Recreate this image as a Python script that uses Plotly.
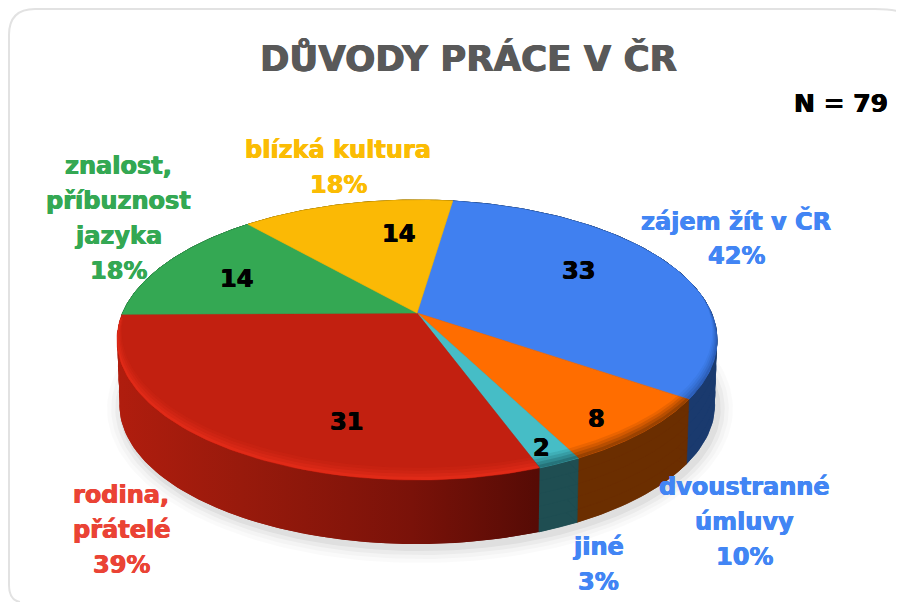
import numpy as np
import plotly.graph_objects as go

# ---- data ----
categories = ["zájem žít v ČR", "dvoustranné úmluvy", "jiné", "rodina, přátelé", "znalost, příbuznost jazyka", "blízká kultura"]
counts = [33, 8, 2, 31, 14, 14]
percent_labels = ["42%", "10%", "3%", "39%", "18%", "18%"]
title_text = "DŮVODY PRÁCE V ČR"
n_text = "N = 79"

# ---- styles ----
top_colors = ["#4080F0", "#FF6D00", "#46BDC6", "#C22010", "#34A853", "#FBB905"]
wall_colors = ["#1A3A6E", "#6B2E00", "#1F4E52", None, "#1E6A35", "#9A7500"]
rim_tints = ["20,50,110", "90,40,0", "20,70,75", "255,55,35", None, None]
rim_strength = [0.6, 1.0, 1.0, 0.8, 0, 0]
label_colors = ["#4285F4", "#4285F4", "#4285F4", "#EA4335", "#34A853", "#FBBC04"]
label_lines = [["zájem žít v ČR", "42%"], ["dvoustranné", "úmluvy", "10%"], ["jiné", "3%"],
               ["rodina,", "přátelé", "39%"], ["znalost,", "příbuznost", "jazyka", "18%"],
               ["blízká kultura", "18%"]]
label_pos = [(736, 221), (744, 487), (598, 547), (121, 495), (118, 166), (338, 150)]
value_pos = [(578, 271), (596, 419), (541, 448), (346, 422), (236, 279), (398, 234)]
LINE = 35
FONT = "DejaVu Sans"

# ---- projection of the tilted disc ----
CX, P = 417.0, 0.193
START = 8.3

def top_pt(t, r=1.0):
    t = np.radians(t)
    u, v = r * np.sin(t), r * np.cos(t)
    w = 1 + P * v
    return CX + 294.4 * u / w, 313 - 134.8 * v / w

def bot_pt(t):
    t = np.radians(t)
    u, v = np.sin(t), np.cos(t)
    w = 1 + P * v
    return CX + 292.0 * u / w, 378 - 134.0 * v / w

total = sum(counts)
edges = START + np.concatenate([[0], np.cumsum(counts)]) * 360.0 / total

fig = go.Figure()

def poly(xs, ys, color=None, grad=None):
    kw = dict(fillgradient=grad) if grad else dict(fillcolor=color)
    solid = color and not color.startswith("rgba")
    fig.add_trace(go.Scatter(x=list(xs) + [xs[0]], y=list(ys) + [ys[0]], mode="lines", fill="toself",
                             line=dict(width=0.6 if solid else 0, color=color if solid else "rgba(0,0,0,0)"),
                             hoverinfo="skip", showlegend=False, **kw))

red_wall = dict(type="horizontal", start=117, stop=537,
                colorscale=[[0, "#B01D0E"], [0.3, "#981A0C"], [0.7, "#7A1209"], [1, "#560B05"]])

# soft ground shadow
ts = np.linspace(0, 360, 240)
for grow, alpha in [(15, 0.018), (11, 0.025), (7, 0.035), (3, 0.05)]:
    bx, by = bot_pt(ts)
    sx = CX + (bx - CX) * (1 + grow / 290.0) + 3
    sy = 405 + (by - 405) * (1 + grow / 139.0) + 4
    poly(sx, sy, f"rgba(0,0,0,{alpha})")

# side walls: the rim swept from the bottom disc up to the top disc
for s in [1.0, 0.8, 0.6, 0.4, 0.2]:
    for i in range(len(counts)):
        a = np.linspace(edges[i], edges[i + 1], 80)
        tx, ty = top_pt(a)
        bx, by = bot_pt(a)
        xs = np.concatenate([tx, (tx + (bx - tx) * s)[::-1]])
        ys = np.concatenate([ty, (ty + (by - ty) * s)[::-1]])
        mx = tx + (bx - tx) * s
        my = ty + (by - ty) * s
        fan_x = np.concatenate([[CX], mx])
        fan_y = np.concatenate([[313 + 65 * s], my])
        if wall_colors[i] is None:
            poly(xs, ys, grad=red_wall)
            poly(fan_x, fan_y, grad=red_wall)
        else:
            poly(xs, ys, wall_colors[i])
            poly(fan_x, fan_y, wall_colors[i])

# top faces
for i in range(len(counts)):
    a = np.linspace(edges[i], edges[i + 1], 100)
    tx, ty = top_pt(a)
    poly(np.concatenate([[CX], tx]), np.concatenate([[313.0], ty]), top_colors[i])

# soft bevel on the near side: stacked translucent bands tapering towards the sides
for i in range(len(counts)):
    if rim_tints[i] is None:
        continue
    lo, hi = max(edges[i], 85), min(edges[i + 1], 268)
    if hi <= lo:
        continue
    a = np.linspace(lo, hi, 80)
    taper = np.clip((-np.cos(np.radians(a)) + 0.12) / 1.12, 0, 1)
    for width, alpha in [(0.06, 0.12), (0.045, 0.16), (0.03, 0.22), (0.015, 0.3)]:
        ox, oy = top_pt(a, 1.0)
        ix, iy = top_pt(a, 1 - width * taper)
        poly(np.concatenate([ox, ix[::-1]]), np.concatenate([oy, iy[::-1]]),
             f"rgba({rim_tints[i]},{alpha * rim_strength[i]:.3f})")

def heavy(color, d=0.45):
    return f"{d}px 0 0.5px {color}, -{d}px 0 0.5px {color}"

ann = []
for i, lines in enumerate(label_lines):
    x0, y0 = label_pos[i]
    for k, s in enumerate(lines):
        ann.append(dict(x=x0, y=y0 + k * LINE, text=f"<b>{s}</b>", showarrow=False, xanchor="center", yanchor="middle",
                        font=dict(family=FONT, size=24, color=label_colors[i], shadow=heavy(label_colors[i]))))
for (x0, y0), v in zip(value_pos, counts):
    ann.append(dict(x=x0, y=y0, text=f"<b>{v}</b>", showarrow=False,
                    font=dict(family=FONT, size=24, color="#000000", shadow=heavy("#000000"))))
ann.append(dict(x=468, y=58, text=f"<b>{title_text}</b>", showarrow=False,
                font=dict(family=FONT, size=35.5, color="#595959", shadow=heavy("#595959", 0.6))))
ann.append(dict(x=841, y=103, text=f"<b>{n_text}</b>", showarrow=False,
                font=dict(family=FONT, size=25, color="#000000", shadow=heavy("#000000"))))

border = "M 20 602 Q 9 600 9 585 L 9 35 Q 9 9 35 9 L 875 9 Q 897 9 904 14"
fig.update_layout(width=896, height=594, margin=dict(l=0, r=0, t=0, b=0), paper_bgcolor="white", plot_bgcolor="white",
                  xaxis=dict(range=[8, 904], visible=False, fixedrange=True),
                  yaxis=dict(range=[602, 8], visible=False, fixedrange=True),
                  annotations=ann, showlegend=False,
                  shapes=[dict(type="path", path=border, line=dict(color="#E2E2E2", width=2), layer="below")])
fig.write_html("out.html")
